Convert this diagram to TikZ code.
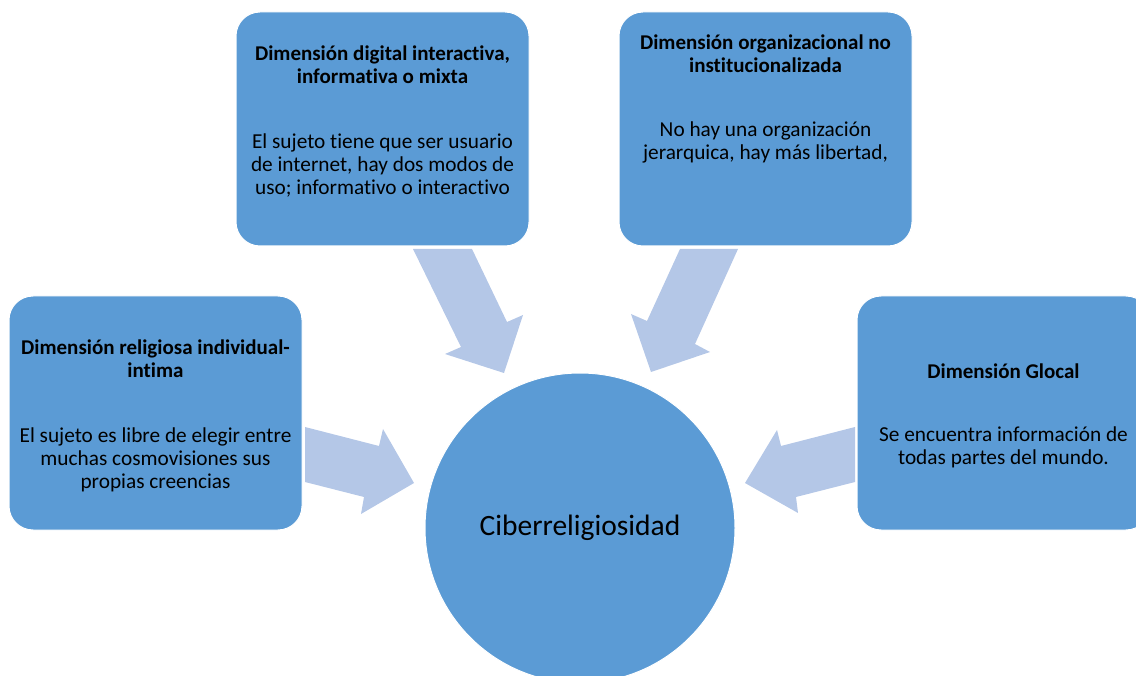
\documentclass[tikz,border=0pt]{standalone}
\usepackage{fontspec}
\setmainfont{Carlito}[Ligatures={NoCommon}]
\definecolor{boxblue}{HTML}{5B9BD5}
\definecolor{arrowblue}{HTML}{B4C7E7}
\tikzset{
  box/.style={fill=boxblue, draw=white, line width=1pt, rounded corners=24pt, minimum width=293pt, minimum height=234pt, inner sep=0pt},
  ttl/.style={font=\fontsize{21}{23}\selectfont\bfseries, align=center, inner sep=0pt, text=black},
  bdy/.style={font=\fontsize{21.3}{23}\selectfont, align=center, inner sep=0pt, text=black},
  blockarrow/.style={fill=arrowblue, draw=none},
  hub/.style={circle, fill=boxblue, draw=white, line width=1pt, minimum size=310pt, inner sep=0pt, font=\fontsize{29.5}{34}\selectfont}
}
\begin{document}
\begin{tikzpicture}[x=1pt,y=-1pt]
\useasboundingbox (0,0) rectangle (1136,676);
\begin{scope}
\clip (0,0) rectangle (1136,676);
% arrows
\fill[blockarrow] (413,249) -- (472,249) -- (507,322) -- (523,315) -- (504,373) -- (445,354) -- (461,347) -- cycle;
\fill[blockarrow] (680,249) -- (738,249) -- (695,344) -- (710,352) -- (651,372) -- (631,314) -- (647,321) -- cycle;
\fill[blockarrow] (305,427) -- (379,446) -- (383,429) -- (414,483) -- (361,514) -- (364,497) -- (305,482) -- cycle;
\fill[blockarrow] (855,427) -- (781,446) -- (777,430) -- (745,483) -- (798,513) -- (796,497) -- (855,482) -- cycle;
% boxes
\node[box] (bdig) at (382.5,129) {};
\node[box] (borg) at (765.5,129) {};
\node[box] (brel) at (155.5,413) {};
\node[box] (bglo) at (1003.5,413) {};
% hub
\node[hub] (hubc) at (580,528) {Ciberreligiosidad};
\end{scope}
% texts
\node[ttl] (tdig) at (382.5,65) {Dimensión digital interactiva,\\informativa o mixta};
\node[bdy] (xdig) at (382.5,165) {El sujeto tiene que ser usuario\\de internet, hay dos modos de\\uso; informativo o interactivo};
\node[ttl] (torg) at (765.5,54) {Dimensión organizacional no\\institucionalizada};
\node[bdy] (xorg) at (765.5,142) {No hay una organización\\jerarquica, hay más libertad,};
\node[ttl] (trel) at (155.5,359) {Dimensión religiosa individual-\\intima};
\node[bdy] (xrel) at (155.5,460) {El sujeto es libre de elegir entre\\muchas cosmovisiones sus\\propias creencias};
\node[ttl] (tglo) at (1003.5,371) {Dimensión Glocal};
\node[bdy] (xglo) at (1003.5,447) {Se encuentra información de\\todas partes del mundo.};
\end{tikzpicture}
\end{document}
